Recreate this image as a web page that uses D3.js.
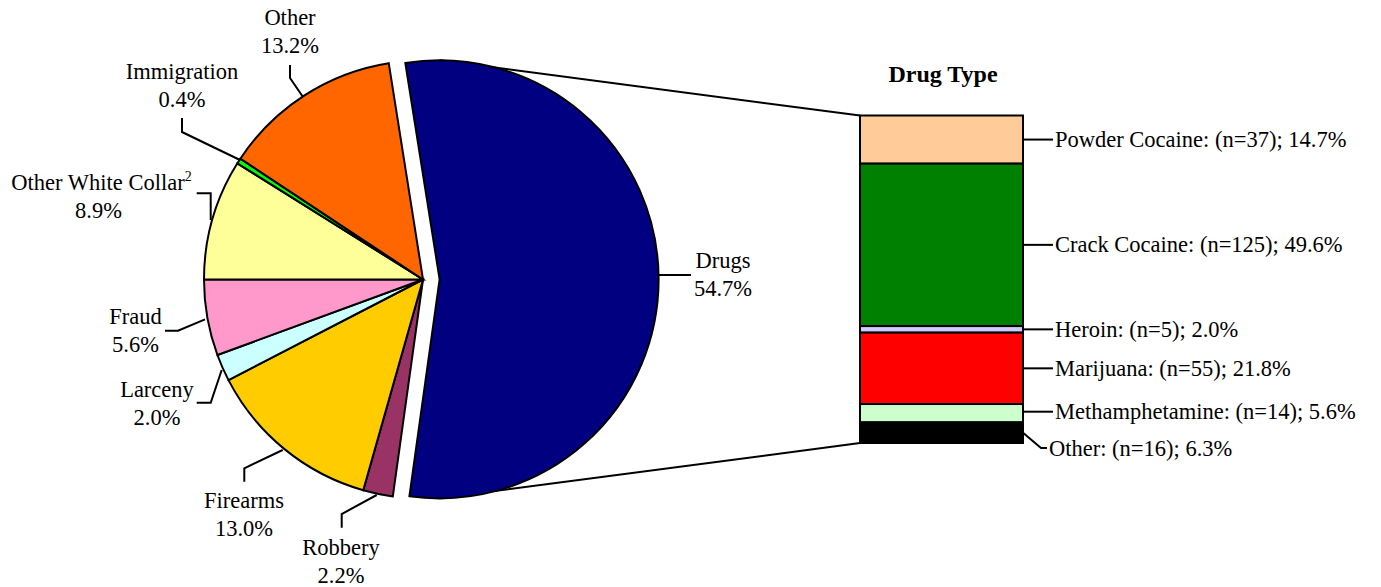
<!DOCTYPE html>
<html>
<head>
<meta charset="utf-8">
<script src="https://cdn.jsdelivr.net/npm/d3@7"></script>
<style>
  html, body { margin: 0; padding: 0; background: #fff; }
  svg { display: block; }
  text { font-family: "Liberation Serif", "Times New Roman", serif; fill: #000; }
</style>
</head>
<body>
<svg id="chart" width="1381" height="587"></svg>
<script>
// ---- data ----
const offenseCategories = ["Drugs", "Robbery", "Firearms", "Larceny", "Fraud", "Other White Collar", "Immigration", "Other"];
const offensePercents   = [54.7, 2.2, 13.0, 2.0, 5.6, 8.9, 0.4, 13.2];
const offenseColors     = ["#000080", "#993366", "#FFCC00", "#CCFFFF", "#FF99CC", "#FFFF99", "#00FF00", "#FF6600"];

const drugTypes    = ["Powder Cocaine", "Crack Cocaine", "Heroin", "Marijuana", "Methamphetamine", "Other"];
const drugCounts   = [37, 125, 5, 55, 14, 16];
const drugPercents = [14.7, 49.6, 2.0, 21.8, 5.6, 6.3];
const drugColors   = ["#FFCC99", "#008000", "#CCCCFF", "#FF0000", "#CCFFCC", "#000000"];

const barTitle = "Drug Type";

// ---- layout ----
const svg = d3.select("#chart");
const cx = 423, cy = 279.5, R = 219, explode = 16.6;
const startDeg = -9;
const FS = 22.5;

const pie = d3.pie().sort(null).value(d => d)
  .startAngle(startDeg * Math.PI / 180)
  .endAngle(startDeg * Math.PI / 180 + 2 * Math.PI);
const arcs = pie(offensePercents);
const arc = d3.arc().innerRadius(0).outerRadius(R);

// drug slice centre after explosion
const dMid = (arcs[0].startAngle + arcs[0].endAngle) / 2;
const dcx = cx + explode * Math.sin(dMid), dcy = cy - explode * Math.cos(dMid);

// bar scale
const barX0 = 860, barX1 = 1023;
const yBar = d3.scaleLinear().domain([0, 100]).range([115.5, 443]);

// connector lines (drawn first, beneath)
svg.append("line").attr("x1", dcx).attr("y1", dcy - R).attr("x2", barX0).attr("y2", yBar(0))
  .attr("stroke", "#000").attr("stroke-width", 2);
svg.append("line").attr("x1", dcx).attr("y1", dcy + R).attr("x2", barX0).attr("y2", yBar(100))
  .attr("stroke", "#000").attr("stroke-width", 2);

// pie slices
const g = svg.append("g");
g.selectAll("path").data(arcs).enter().append("path")
  .attr("d", arc)
  .attr("transform", (d, i) => i === 0 ? `translate(${dcx},${dcy})` : `translate(${cx},${cy})`)
  .attr("fill", (d, i) => offenseColors[i])
  .attr("stroke", "#000").attr("stroke-width", 2).attr("stroke-linejoin", "miter");

// pie labels
const pieLabels = [
  { i: 0, x: 723, y: 268, lead: [[658, 275], [691, 275]] },
  { i: 1, x: 341, y: 555, lead: [[341.7, 527.7], [341.7, 514], [376.7, 495]] },
  { i: 2, x: 244, y: 508, lead: [[244.3, 481.7], [244.3, 468.3], [282.7, 450]] },
  { i: 3, x: 157, y: 397, lead: [[196.7, 402.7], [210.7, 402.7], [221.7, 370]] },
  { i: 4, x: 135.5, y: 323.5, lead: [[165, 330.7], [178, 330.7], [205, 319.3]] },
  { i: 5, x: 101.5, y: 190, lead: [[196.7, 193.3], [210.7, 193.3], [210.7, 220]] , sup: "2" },
  { i: 6, x: 182, y: 79, lead: [[182, 118], [182, 132], [240, 160]] },
  { i: 7, x: 290, y: 25, lead: [[290, 65], [290, 78], [303, 97]] }
];
const line = d3.line();
pieLabels.forEach(L => {
  svg.append("path").attr("d", line(L.lead)).attr("fill", "none")
    .attr("stroke", "#000").attr("stroke-width", 2);
  const t = svg.append("text").attr("text-anchor", "middle").attr("font-size", FS);
  t.append("tspan").attr("x", L.x).attr("y", L.y).text(offenseCategories[L.i]);
  if (L.sup) {
    t.append("tspan").attr("font-size", 14).attr("dy", -9).text(L.sup);
  }
  svg.append("text").attr("text-anchor", "middle").attr("font-size", FS)
    .attr("x", L.x - (L.sup ? 3 : 0)).attr("y", L.y + 28)
    .text(offensePercents[L.i].toFixed(1) + "%");
});

// bar
let cum = 0;
const segs = drugPercents.map((p, i) => { const s = { i, y0: cum, y1: cum + p }; cum += p; return s; });
yBar.domain([0, cum]);
svg.selectAll("rect.seg").data(segs).enter().append("rect").attr("class", "seg")
  .attr("x", barX0).attr("width", barX1 - barX0)
  .attr("y", d => yBar(d.y0)).attr("height", d => yBar(d.y1) - yBar(d.y0))
  .attr("fill", d => drugColors[d.i])
  .attr("stroke", "#000").attr("stroke-width", 2);

// bar title
svg.append("text").attr("x", 943).attr("y", 82).attr("text-anchor", "middle")
  .attr("font-size", 24).attr("font-weight", "bold").text(barTitle);

// bar labels
segs.forEach(s => {
  const ym = (yBar(s.y0) + yBar(s.y1)) / 2;
  const label = `${drugTypes[s.i]}: (n=${drugCounts[s.i]}); ${drugPercents[s.i].toFixed(1)}%`;
  if (s.i === segs.length - 1) {
    svg.append("path").attr("d", line([[barX1, ym], [1041, 448], [1047, 448]]))
      .attr("fill", "none").attr("stroke", "#000").attr("stroke-width", 2);
    svg.append("text").attr("x", 1049).attr("y", 456).attr("font-size", FS).text(label);
  } else {
    const ly = s.i === 4 ? ym - 1.5 : ym;
    svg.append("line").attr("x1", barX1).attr("y1", ly).attr("x2", 1053).attr("y2", ly)
      .attr("stroke", "#000").attr("stroke-width", 2);
    svg.append("text").attr("x", 1055).attr("y", ly + 7.5).attr("font-size", FS).text(label);
  }
});
</script>
</body>
</html>
